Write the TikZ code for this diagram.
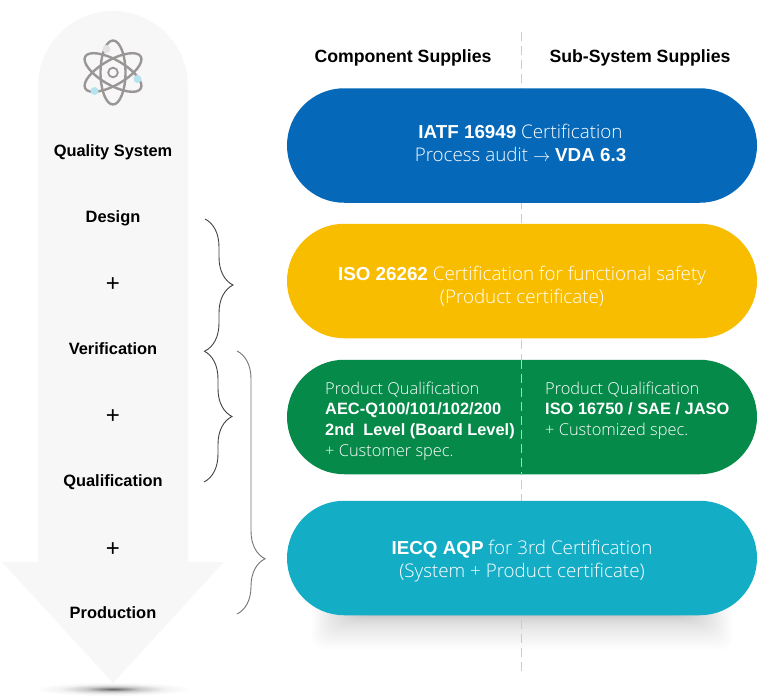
\documentclass[tikz,border=0pt]{standalone}
\usepackage{fontspec}
\setmainfont{Liberation Sans}
\newfontfamily\lightfont{Open Sans Light}[BoldFont={Liberation Sans Bold}]
\usepackage{tikz}
\usetikzlibrary{shapes.misc,decorations.pathreplacing}

\definecolor{arrowgray}{HTML}{F7F7F7}
\definecolor{atomgray}{HTML}{9A9696}
\definecolor{atomblue}{HTML}{B5E3EE}
\definecolor{atomlight}{HTML}{E2E3E2}
\definecolor{pillblue}{HTML}{0568B8}
\definecolor{pillyellow}{HTML}{F9BD00}
\definecolor{pillgreen}{HTML}{058A4A}
\definecolor{pillteal}{HTML}{14ADC6}

\pgfdeclareradialshading{softspot}{\pgfpoint{0bp}{0bp}}{color(0bp)=(black!60); color(4bp)=(black!42); color(9bp)=(black!20); color(17bp)=(black!5); color(25bp)=(white); color(50bp)=(white)}

\begin{document}
\begin{tikzpicture}[
    x=1pt, y=-1pt,
    pill/.style={rounded rectangle, minimum width=470pt, minimum height=114.5pt,
                inner sep=0pt},
    pilltext/.style={text=white, align=center, font=\fontsize{18.8}{23}\lightfont},
    steplbl/.style={font=\fontsize{16.4}{19}\bfseries, anchor=base},
    pluslbl/.style={font=\fontsize{24}{24}\selectfont, anchor=center},
    head/.style={font=\fontsize{17.7}{21}\bfseries, anchor=base},
    speclbl/.style={text=white, align=left, anchor=north west, inner sep=0pt,
                font=\fontsize{16.4}{20.6}\lightfont},
    bracel/.style={decorate, decoration={brace, amplitude=28pt}, line width=0.9pt},
    orbit/.style={draw=atomgray, line width=2.4pt},
    electron/.style={circle, inner sep=0pt, minimum size=8pt},
    sep/.style={draw=gray!40, line width=0.8pt, dash pattern=on 9pt off 5pt}
]
\useasboundingbox (0,0) rectangle (768,699);

% --- Down arrow on the left ---
\shade[shading=softspot] (113,689) ellipse (78 and 7);
\fill[arrowgray] (38,86) arc[start angle=180, end angle=360, radius=75] -- (188,562)
    -- (224,562) -- (113,683) -- (2,562) -- (38,562) -- cycle;

% Atom icon
\coordinate (atom) at (113,72.5);
\draw[orbit] (atom) ellipse (12.5 and 32);
\draw[orbit, rotate around={60:(atom)}] (atom) ellipse (12.5 and 32);
\draw[orbit, rotate around={-60:(atom)}] (atom) ellipse (12.5 and 32);
\draw[orbit, line width=1.8pt] (atom) circle (4.8);
\node[electron, fill=atomlight] (e1) at (106.5,49) {};
\node[electron, fill=atomblue] (e2) at (137.5,79) {};
\node[electron, fill=atomblue] (e3) at (94.5,91) {};

% Steps
\node[steplbl] (quality) at (113,156) {Quality System};
\node[steplbl] (design) at (113,222) {Design};
\node[pluslbl] (plusa) at (113,285) {+};
\node[steplbl] (verif) at (113,354) {Verification};
\node[pluslbl] (plusb) at (113,417) {+};
\node[steplbl] (qualif) at (113,486) {Qualification};
\node[pluslbl] (plusc) at (113,550) {+};
\node[steplbl] (prod) at (113,618) {Production};

% --- Braces ---
\draw[bracel, draw=black!75] (205,219) -- (205,351);
\draw[bracel, draw=black!75] (204,351) -- (204,482);
\draw[bracel, draw=black!55, decoration={aspect=0.79}] (237,351) -- (237,614);

% --- Column headers ---
\node[head] (comp) at (403,62) {Component Supplies};
\node[head] (sub) at (640,62) {Sub-System Supplies};

% Pill shadow
\foreach \i in {0,...,29} {
    \pgfmathsetmacro{\shadowend}{616+34*(1-\i/29)*(1-\i/29)}
    \fill[black, opacity=0.009, rounded corners=12pt]
        (312+\i*1.7,590) rectangle (732-\i*1.7,\shadowend);
}

% Separator runs behind the pills
\draw[sep] (521.5,32) -- (521.5,676);

% --- Pills ---
\node[pill, fill=pillblue] (iatf) at (522,145.5) {};
\node[pill, fill=pillyellow] (iso) at (522,281) {};
\node[pill, fill=pillgreen] (prodq) at (522,417) {};
\node[pill, fill=pillteal] (iecq) at (522,558) {};
\draw[sep, draw=white!65!pillgreen] (521.5,360) -- (521.5,474);

\node[pilltext] (iatft) at (520.5,142.5)
    {{\bfseries IATF 16949} Certification\\Process audit $\rightarrow$ {\bfseries VDA 6.3}};
\node[pilltext] (isot) at (522,286)
    {{\bfseries ISO 26262} Certification for functional safety\\(Product certificate)};
\node[pilltext] (iecqt) at (522,561.5)
    {{\bfseries IECQ AQP} for 3rd Certification\\(System + Product certificate)};
\node[speclbl] (aec) at (325,381.5)
    {Product Qualification\\{\bfseries AEC-Q100/101/102/200}\\{\bfseries 2nd\ \ Level (Board Level)}\\+ Customer spec.};
\node[speclbl] (isob) at (545,381.5)
    {Product Qualification\\{\bfseries ISO 16750 / SAE / JASO}\\+ Customized spec.};

\end{tikzpicture}
\end{document}
